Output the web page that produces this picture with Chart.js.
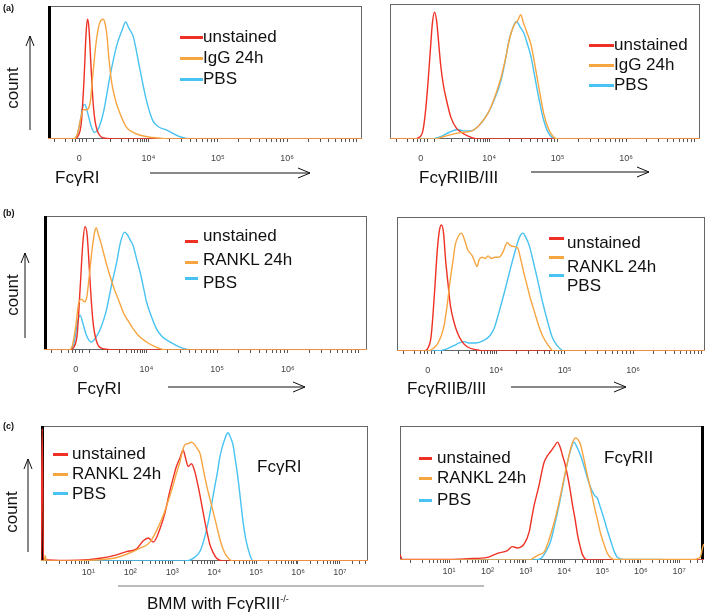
<!DOCTYPE html>
<html>
<head>
<meta charset="utf-8">
<script src="https://cdn.jsdelivr.net/npm/chart.js@4"></script>
<style>
body{margin:0;background:#fff;width:709px;height:612px;position:relative;overflow:hidden;font-family:"Liberation Sans",Arial,sans-serif;color:#111}
canvas{position:absolute}
.t{position:absolute;white-space:nowrap;font-size:17px;line-height:17px}
.p{position:absolute;font-size:9px;font-weight:bold;line-height:9px}
.m{position:absolute;height:3px}
.rot{position:absolute;font-size:17px;line-height:17px;transform:translate(-50%,-50%) rotate(-90deg);white-space:nowrap}
svg{position:absolute;left:0;top:0}
sup{font-size:9px}
</style>
</head>
<body>
<canvas id="aL"></canvas>
<canvas id="aR"></canvas>
<canvas id="bL"></canvas>
<canvas id="bR"></canvas>
<canvas id="cL"></canvas>
<canvas id="cR"></canvas>

<svg width="709" height="612" stroke="#111" stroke-width="1" fill="none">
  <!-- count arrows -->
  <line x1="30" y1="130" x2="30" y2="36"/><polyline points="26,46 30,36 34,46"/>
  <line x1="25" y1="338" x2="25" y2="253"/><polyline points="21,263 25,253 29,263"/>
  <line x1="28" y1="552" x2="28" y2="459"/><polyline points="24,469 28,459 32,469"/>
  <!-- x arrows -->
  <line x1="150" y1="173" x2="310" y2="173"/><polyline points="298,168 310,173 298,178"/>
  <line x1="531" y1="172" x2="649" y2="172"/><polyline points="637,167 649,172 637,177"/>
  <line x1="168" y1="387" x2="305" y2="387"/><polyline points="293,382 305,387 293,392"/>
  <line x1="511" y1="387" x2="626" y2="387"/><polyline points="614,382 626,387 614,392"/>
  <line x1="118" y1="586" x2="484" y2="586" stroke="#777"/>
</svg>

<div class="p" style="left:3px;top:4px">(a)</div>
<div class="p" style="left:3px;top:209px">(b)</div>
<div class="p" style="left:3px;top:422px">(c)</div>

<div class="rot" style="left:12px;top:88px">count</div>
<div class="rot" style="left:12px;top:295px">count</div>
<div class="rot" style="left:11px;top:512px">count</div>

<div class="t" style="left:55px;top:169px">FcγRI</div>
<div class="t" style="left:419px;top:169px">FcγRIIB/III</div>
<div class="t" style="left:77px;top:380px">FcγRI</div>
<div class="t" style="left:407px;top:380px">FcγRIIB/III</div>
<div class="t" style="left:257px;top:458px">FcγRI</div>
<div class="t" style="left:604px;top:449px">FcγRII</div>
<div class="t" style="left:147px;top:591px">BMM with FcγRIII<sup>-/-</sup></div>

<div id="legends"></div>

<script>
// ---- colours / series names ----
const seriesColors = ['#ee3124', '#f7a541', '#48c2f1'];
const seriesOrder = [1, 0, 2]; // orange drawn on top, then red, then blue

// ---- x tick labels ----
const logicleTickPos = [0, 1, 2, 3];
const logicleTickLabels = ['0', '10⁴', '10⁵', '10⁶'];
const logTickPos = [1, 2, 3, 4, 5, 6, 7];
const logTickLabels = ['10¹', '10²', '10³', '10⁴', '10⁵', '10⁶', '10⁷'];

// ---- (a) left: FcγRI, unstained / IgG 24h / PBS  (x in axis decades, y in % of max) ----
const aL_unstained = [[-0.45,0],[-0.08,0],[-0.02,2],[0.03,12],[0.07,45],[0.1,80],[0.12,90],[0.14,84],[0.17,55],[0.2,28],[0.23,13],[0.27,5],[0.32,1.5],[0.4,0.5],[0.6,0],[4.08,0]];
const aL_igg = [[-0.45,0],[-0.08,0],[-0.03,3],[0.02,15],[0.06,22],[0.1,22],[0.16,28],[0.2,50],[0.25,75],[0.3,88],[0.35,90],[0.38,85],[0.4,78],[0.43,60],[0.47,42],[0.53,28],[0.59,19],[0.68,9],[0.78,5],[0.87,3],[1.0,1.5],[1.2,0.5],[1.3,0],[4.08,0]];
const aL_pbs = [[-0.45,0],[-0.08,0],[-0.03,3],[0.02,15],[0.05,24],[0.08,26],[0.12,20],[0.17,10],[0.22,5],[0.27,7],[0.35,20],[0.44,46],[0.54,70],[0.62,82],[0.67,88],[0.72,83],[0.78,77],[0.87,54],[0.97,29],[1.06,14],[1.15,9],[1.25,7],[1.44,2],[1.63,0],[4.08,0]];

// ---- (a) right: FcγRIIB/III ----
const aR_unstained = [[-0.45,0],[-0.1,0],[-0.03,1],[0.03,6],[0.07,21],[0.11,45],[0.14,66],[0.17,86],[0.2,94],[0.23,88],[0.26,72],[0.29,55],[0.33,40],[0.37,30],[0.44,16],[0.52,8],[0.59,5],[0.7,2],[0.85,0],[4.08,0]];
const aR_igg = [[-0.45,0],[0.2,0],[0.35,2],[0.5,4],[0.62,5],[0.75,6],[0.85,10],[0.98,19],[1.08,31],[1.17,45],[1.24,60],[1.3,75],[1.36,84],[1.42,88],[1.46,92],[1.5,86],[1.55,79],[1.61,70],[1.67,54],[1.74,34],[1.8,18],[1.87,7],[1.94,1.5],[2.0,0],[4.08,0]];
const aR_pbs = [[-0.45,0],[0.15,0],[0.3,2],[0.42,5],[0.54,7],[0.63,6],[0.73,6],[0.85,10],[0.98,19],[1.08,30],[1.17,43],[1.23,57],[1.29,73],[1.35,83],[1.4,87],[1.45,83],[1.51,78],[1.56,70],[1.61,61],[1.67,45],[1.73,29],[1.79,15],[1.85,6],[1.92,1],[1.98,0],[4.08,0]];

// ---- (b) left: FcγRI, unstained / RANKL 24h / PBS ----
const bL_unstained = [[-0.45,0],[-0.1,0],[-0.03,2],[0.02,12],[0.06,45],[0.1,80],[0.13,92],[0.16,86],[0.19,62],[0.22,36],[0.25,18],[0.29,7],[0.34,2],[0.45,0.5],[0.6,0],[4.12,0]];
const bL_rankl = [[-0.45,0],[-0.1,0],[-0.05,3],[0.0,18],[0.04,35],[0.08,38],[0.12,36],[0.15,38],[0.19,55],[0.23,75],[0.27,89],[0.29,91],[0.32,86],[0.36,79],[0.39,73],[0.44,63],[0.48,56],[0.54,46],[0.6,38],[0.65,31],[0.68,27],[0.75,21],[0.81,16],[0.9,10],[1.0,6],[1.1,3],[1.28,0],[4.12,0]];
const bL_pbs = [[-0.45,0],[-0.08,0],[-0.03,4],[0.01,16],[0.04,24],[0.06,26],[0.1,20],[0.15,11],[0.22,6],[0.28,9],[0.35,16],[0.43,29],[0.5,47],[0.58,66],[0.63,80],[0.69,88],[0.73,86],[0.77,82],[0.81,78],[0.86,68],[0.91,58],[0.96,46],[1.0,36],[1.07,25],[1.14,16],[1.22,10],[1.33,6],[1.48,2],[1.66,0],[4.12,0]];

// ---- (b) right: FcγRIIB/III ----
const bR_unstained = [[-0.45,0],[-0.05,0],[0.0,2],[0.04,8],[0.06,17],[0.1,45],[0.14,76],[0.17,90],[0.2,94],[0.23,88],[0.26,68],[0.3,48],[0.33,34],[0.38,22],[0.43,14],[0.5,7],[0.58,3],[0.7,1],[0.85,0],[4.05,0]];
const bR_rankl = [[-0.45,0],[0.0,0],[0.08,2],[0.15,6],[0.23,17],[0.28,33],[0.33,54],[0.37,68],[0.4,79],[0.45,86],[0.49,88],[0.53,84],[0.58,76],[0.62,73],[0.65,71],[0.69,66],[0.72,63],[0.75,68],[0.79,70],[0.84,69],[0.88,71],[0.93,69],[0.98,70],[1.04,70],[1.09,73],[1.13,78],[1.16,81],[1.2,79],[1.25,78],[1.31,77],[1.36,68],[1.4,59],[1.45,49],[1.5,39],[1.56,29],[1.62,19],[1.68,11],[1.75,5],[1.84,0],[4.05,0]];
const bR_pbs = [[-0.45,0],[0.1,0],[0.25,1],[0.38,4],[0.46,6],[0.53,7],[0.6,6],[0.7,6],[0.82,8],[0.9,11],[0.97,17],[1.04,29],[1.11,42],[1.17,54],[1.23,66],[1.29,77],[1.34,85],[1.39,88],[1.43,85],[1.48,79],[1.54,67],[1.6,54],[1.67,38],[1.75,22],[1.82,10],[1.89,4],[1.99,0],[4.05,0]];

// ---- (c) left: FcγRI, BMM with FcγRIII-/- (x in log10 units) ----
const cL_unstained = [[-0.13,0],[-0.1,98],[-0.07,1],[0.5,0.5],[1.0,1],[1.28,2],[1.6,4],[1.91,7],[2.15,9],[2.31,15],[2.43,17],[2.55,14],[2.71,24],[2.83,36],[2.93,50],[3.02,61],[3.1,70],[3.18,76],[3.26,82],[3.32,76],[3.38,70],[3.46,72],[3.54,66],[3.6,58],[3.66,49],[3.72,39],[3.78,29],[3.84,20],[3.9,12],[3.98,6],[4.06,2],[4.21,0],[7.67,0]];
const cL_rankl = [[-0.13,0],[-0.05,0],[-0.03,4],[0.0,0],[1.0,0.5],[1.6,2],[1.91,5],[2.2,9],[2.47,14],[2.65,24],[2.79,34],[2.92,46],[3.02,56],[3.1,65],[3.18,73],[3.25,82],[3.3,86],[3.38,87],[3.46,88],[3.54,86],[3.6,83],[3.66,80],[3.74,68],[3.82,56],[3.9,46],[3.98,36],[4.06,26],[4.13,17],[4.21,9],[4.29,4],[4.45,0],[7.67,0]];
const cL_pbs = [[-0.13,0],[3.3,0],[3.5,2],[3.66,7],[3.76,16],[3.86,29],[3.94,42],[4.02,56],[4.08,66],[4.13,76],[4.19,84],[4.25,90],[4.3,94],[4.33,95],[4.37,93],[4.41,90],[4.45,86],[4.51,74],[4.57,61],[4.63,45],[4.69,29],[4.75,17],[4.81,9],[4.87,3],[4.93,0],[7.67,0]];

// ---- (c) right: FcγRII ----
const cR_unstained = [[-0.28,4],[-0.22,0.5],[1.0,0.5],[1.5,1],[2.0,2],[2.26,5],[2.52,7],[2.65,10],[2.78,9],[2.96,12],[3.09,21],[3.16,32],[3.22,41],[3.35,56],[3.42,66],[3.48,73],[3.57,78],[3.65,81],[3.75,85],[3.83,88],[3.9,84],[3.96,78],[4.03,71],[4.09,63],[4.16,52],[4.22,41],[4.29,30],[4.35,19],[4.42,10],[4.48,4],[4.61,0],[7.65,0]];
const cR_rankl = [[-0.28,0],[3.1,0],[3.22,2],[3.35,4],[3.48,6],[3.57,12],[3.65,19],[3.74,28],[3.83,38],[3.92,50],[4.0,61],[4.09,73],[4.17,83],[4.24,89],[4.3,91],[4.36,90],[4.43,86],[4.52,75],[4.61,63],[4.7,52],[4.78,41],[4.87,30],[4.96,19],[5.05,11],[5.13,5],[5.3,0.5],[7.4,0.5],[7.55,2],[7.62,10],[7.65,12]];
const cR_pbs = [[-0.28,0],[3.2,0],[3.39,1],[3.52,6],[3.65,14],[3.76,27],[3.87,41],[3.98,57],[4.09,73],[4.17,82],[4.26,88],[4.34,84],[4.43,78],[4.52,70],[4.61,61],[4.68,55],[4.74,51],[4.8,48],[4.87,46],[4.95,39],[5.04,31],[5.13,22],[5.22,14],[5.3,7],[5.39,2],[5.57,0.5],[6.5,0.5],[6.7,0],[7.65,0]];

// tick positions (major + minor)
function logicleTicks(max) {
  const t = [-0.35, -0.2, -0.1, -0.05, 0, 0.05, 0.1, 0.2];
  for (let k = 1; k <= 9; k++) t.push(0.45 + 0.55 * Math.log10(k));
  for (let d = 1; d <= 3; d++) for (let k = 1; k <= 9; k++) t.push(d + Math.log10(k));
  t.push(4);
  return t.filter(v => v < max - 0.03);
}
function logTicks(min, max) {
  const t = [];
  for (let d = 0; d <= 7; d++) for (let k = 1; k <= 9; k++) t.push(d + Math.log10(k));
  return t.filter(v => v > min + 0.03 && v < max - 0.03);
}

const frame = {
  id: 'frame',
  beforeDatasetsDraw(chart, args, opts) {
    const { ctx, chartArea: a } = chart;
    ctx.save();
    ctx.strokeStyle = '#666';
    ctx.lineWidth = 1;
    ctx.strokeRect(a.left + 0.5, a.top + 0.5, a.width - 1, a.height - 1);
    if (opts.thick) {
      const x = opts.thick === 'left' ? a.left + 1.5 : a.right - 1.5;
      ctx.strokeStyle = '#000';
      ctx.lineWidth = 3;
      ctx.beginPath();
      ctx.moveTo(x, a.top);
      ctx.lineTo(x, a.bottom);
      ctx.stroke();
    }
    ctx.restore();
  }
};

const AXIS_H = 28;

function makePanel(id, box, series, names, xr, tickPos, tickLabels, minorTicks, labelPad, thick, legend) {
  const cv = document.getElementById(id);
  const w = box.r - box.l, h = box.b - box.t + AXIS_H;
  cv.width = w; cv.height = h;
  cv.style.left = box.l + 'px'; cv.style.top = box.t + 'px';

  new Chart(cv, {
    type: 'line',
    data: {
      datasets: series.map((s, i) => ({
        label: names[i],
        data: s.map(p => ({ x: p[0], y: p[1] })),
        borderColor: seriesColors[i],
        borderWidth: 1.4,
        order: seriesOrder[i],
        pointRadius: 0,
        cubicInterpolationMode: 'monotone',
        fill: false
      }))
    },
    options: {
      responsive: false,
      animation: false,
      layout: { padding: 0 },
      plugins: { legend: { display: false }, tooltip: { enabled: false }, frame: { thick } },
      scales: {
        x: {
          type: 'linear', min: xr[0], max: xr[1],
          afterBuildTicks: sc => { sc.ticks = minorTicks.map(v => ({ value: v })); },
          afterFit: sc => {
            sc.height = AXIS_H;
            sc.paddingLeft = 0; sc.paddingRight = 0;
          },
          grid: { drawOnChartArea: false, drawTicks: true, tickLength: 3, color: '#555' },
          border: { display: false },
          ticks: {
            autoSkip: false, maxRotation: 0, minRotation: 0, padding: labelPad,
            color: '#444', font: { size: 9, family: 'Liberation Sans' },
            callback: v => {
              const i = tickPos.findIndex(p => Math.abs(p - v) < 1e-6);
              return i >= 0 ? tickLabels[i] : '';
            }
          }
        },
        y: { display: false, min: 0, max: 100 }
      }
    },
    plugins: [frame]
  });

  // legend: coloured bar + label
  const host = document.getElementById('legends');
  names.forEach((n, i) => {
    const m = document.createElement('div');
    m.className = 'm';
    m.style.cssText = `left:${legend.mx[0]}px;width:${legend.mx[1] - legend.mx[0]}px;top:${legend.my[i] - 1}px;background:${seriesColors[i]}`;
    host.appendChild(m);
    const t = document.createElement('div');
    t.className = 't';
    t.textContent = n;
    t.style.left = legend.tx + 'px';
    t.style.top = (legend.ty[i] - 9) + 'px';
    host.appendChild(t);
  });
}

const namesIgG = ['unstained', 'IgG 24h', 'PBS'];
const namesRankl = ['unstained', 'RANKL 24h', 'PBS'];

makePanel('aL', { l: 48, t: 6, r: 362, b: 139 }, [aL_unstained, aL_igg, aL_pbs], namesIgG,
  [-0.45, 4.08], logicleTickPos, logicleTickLabels, logicleTicks(4.08), 11, 'left',
  { mx: [180, 203], my: [37, 58, 79], tx: 203, ty: [37, 58, 79] });
makePanel('aR', { l: 390, t: 4, r: 700, b: 139 }, [aR_unstained, aR_igg, aR_pbs], namesIgG,
  [-0.45, 4.08], logicleTickPos, logicleTickLabels, logicleTicks(4.08), 11, null,
  { mx: [589, 614], my: [45, 65, 85], tx: 614, ty: [45, 65, 85] });
makePanel('bL', { l: 44, t: 216, r: 367, b: 350 }, [bL_unstained, bL_rankl, bL_pbs], namesRankl,
  [-0.45, 4.12], logicleTickPos, logicleTickLabels, logicleTicks(4.12), 11, 'left',
  { mx: [185, 198], my: [241, 262, 278], tx: 203, ty: [236, 260, 283] });
makePanel('bR', { l: 397, t: 217, r: 705, b: 351 }, [bR_unstained, bR_rankl, bR_pbs], namesRankl,
  [-0.45, 4.05], logicleTickPos, logicleTickLabels, logicleTicks(4.05), 11, null,
  { mx: [549, 564], my: [238, 257, 275], tx: 567, ty: [243, 267, 286] });
makePanel('cL', { l: 41, t: 426, r: 368, b: 561 }, [cL_unstained, cL_rankl, cL_pbs], namesRankl,
  [-0.13, 7.67], logTickPos, logTickLabels, logTicks(-0.13, 7.67), 3, 'left',
  { mx: [53, 68], my: [454, 474, 493], tx: 72, ty: [454, 474, 494] });
makePanel('cR', { l: 400, t: 426, r: 704, b: 560 }, [cR_unstained, cR_rankl, cR_pbs], namesRankl,
  [-0.28, 7.65], logTickPos, logTickLabels, logTicks(-0.28, 7.65), 3, 'right',
  { mx: [419, 432], my: [458, 478, 500], tx: 437, ty: [458, 478, 500] });
</script>
</body>
</html>
